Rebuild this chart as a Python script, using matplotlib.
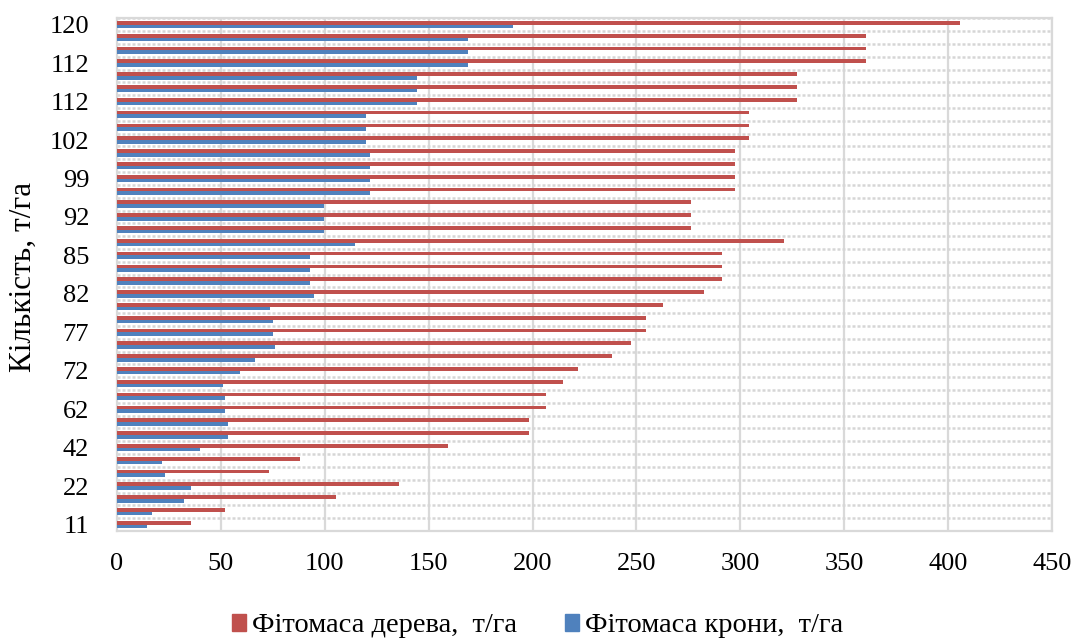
import matplotlib
matplotlib.use("Agg")
import matplotlib.pyplot as plt
from matplotlib.patches import Patch
import numpy as np

plt.rcParams["font.family"] = ["Liberation Serif", "DejaVu Serif"]

# values listed from the bottom category up (t/ha)
tree = [35.8, 51.8, 105.5, 135.7, 73.1, 87.9, 159.1, 198.5, 198.5, 206.6,
        206.6, 214.7, 221.8, 238.0, 247.6, 254.8, 254.8, 262.8, 282.7, 291.0,
        291.0, 291.0, 320.8, 276.2, 276.2, 276.2, 297.5, 297.5, 297.5, 297.5,
        304.0, 304.0, 304.0, 327.5, 327.5, 327.5, 360.4, 360.4, 360.4, 405.9]
crown = [14.4, 16.7, 32.1, 35.8, 23.3, 21.8, 40.1, 53.4, 53.4, 52.0,
         52.0, 51.2, 59.4, 66.6, 76.2, 74.9, 74.9, 73.8, 94.7, 93.1,
         93.1, 93.1, 114.5, 99.8, 99.8, 99.8, 121.7, 121.7, 121.7, 121.7,
         119.6, 119.6, 119.6, 144.6, 144.6, 144.6, 168.9, 168.9, 168.9, 190.8]
# Excel shows every third category label
tick_labels = ["11", "22", "42", "62", "72", "77", "82", "85", "92", "99",
               "102", "112", "112", "120"]

red = "#C0504D"
blue = "#4F81BD"
grid_c = "#d9d9d9"

fig = plt.figure(figsize=(10.75, 6.42), dpi=100)
ax = fig.add_axes([117 / 1075, 1 - 531 / 642, 935 / 1075, (531 - 18.3) / 642])

y = np.arange(len(tree))
h = 1 / 3.5
ax.barh(y + h / 2, tree, height=h, color=red, zorder=3)
ax.barh(y - h / 2, crown, height=h, color=blue, zorder=3)

ax.set_xlim(0, 450)
ax.set_ylim(-0.5, len(tree) - 0.5)
ax.set_xticks(np.arange(0, 451, 50))
ax.set_yticks(y[::3])
ax.set_yticklabels(tick_labels)
ax.tick_params(axis="both", length=0, labelsize=19)
ax.tick_params(axis="y", pad=20)
ax.tick_params(axis="x", pad=16)

# gridlines: solid verticals, dotted category separators
for xv in np.arange(50, 451, 50):
    ax.axvline(xv, color=grid_c, lw=1.6, zorder=1)
for yb in np.arange(-0.5, len(tree), 1.0):
    ax.axhline(yb, color="#d6d6d6", lw=1.8, ls=(0, (1.2, 0.8)), zorder=1)
for s in ax.spines.values():
    s.set_color(grid_c)
    s.set_linewidth(1.6)

fig.text(23 / 1075, 0.569, "Кількість, т/га", rotation=90, ha="center",
         va="center", fontsize=22.5)

handles = [Patch(color=red, label="Фітомаса дерева,  т/га"),
           Patch(color=blue, label="Фітомаса крони,  т/га")]
fig.legend(handles=handles, loc="center", bbox_to_anchor=(0.5, 1 - 626 / 642),
           ncol=2, frameon=False, fontsize=20.5, handlelength=0.5,
           handleheight=0.5, handletextpad=0.2, columnspacing=1.7)

fig.savefig("out.png", dpi=100)
